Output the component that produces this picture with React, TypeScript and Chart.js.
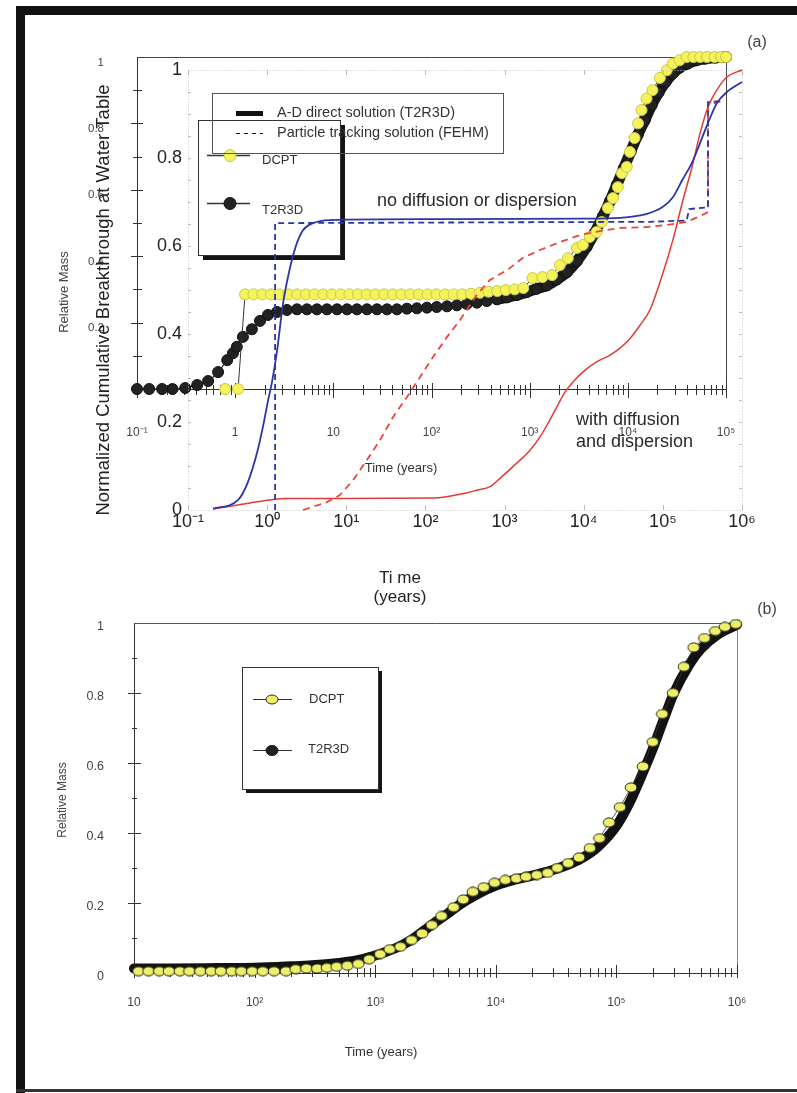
import React, { useEffect, useRef } from "react";
import { Chart, registerables } from "chart.js";

Chart.register(...registerables);

const FONT = '"Liberation Sans", Arial, Helvetica, sans-serif';

// ---------------- Panel (a) : background chart (Relative Mass, DCPT / T2R3D) ----------------
const A_BG_X_TICKS = [0.1, 1, 10, 100, 1000, 10000, 100000];
const A_BG_X_LABELS = ["10⁻¹", "1", "10", "10²", "10³", "10⁴", "10⁵"];
const A_BG_Y_TICKS = [0.2, 0.4, 0.6, 0.8, 1];
const A_BG_Y_LABELS = ["0.2", "0.4", "0.6", "0.8", "1"];

const DCPT_A_T = [0.79, 1.07, 1.26, 1.54, 1.89, 2.32, 2.84, 3.49, 4.28, 5.25, 6.44, 7.89, 9.68, 11.9, 14.6, 17.8, 21.9, 26.8, 32.9, 40.4, 49.5, 60.7, 74.5, 91.3, 112, 137, 168, 206, 253, 310, 380, 467, 572, 702, 861, 1070, 1350, 1690, 2030, 2450, 3030, 3480, 4090, 4800, 5430, 6270, 7060, 7920, 8700, 9760, 10500, 11700, 12700, 13800, 15500, 17800, 21200, 24900, 28700, 33600, 39600, 46500, 54600, 64000, 76600, 89000, 100000];
const DCPT_A_V = [0, 0, 0.285, 0.285, 0.285, 0.285, 0.285, 0.285, 0.285, 0.285, 0.285, 0.285, 0.285, 0.285, 0.285, 0.285, 0.285, 0.285, 0.285, 0.285, 0.285, 0.285, 0.285, 0.285, 0.285, 0.285, 0.285, 0.285, 0.287, 0.29, 0.293, 0.295, 0.298, 0.3, 0.304, 0.334, 0.337, 0.343, 0.373, 0.394, 0.425, 0.434, 0.458, 0.473, 0.503, 0.545, 0.575, 0.608, 0.65, 0.669, 0.714, 0.756, 0.8, 0.84, 0.875, 0.9, 0.937, 0.96, 0.98, 0.99, 1, 1, 1, 1, 1, 1, 1];

const T2R3D_A_T = [0.1, 0.133, 0.18, 0.23, 0.31, 0.41, 0.53, 0.67, 0.83, 0.95, 1.04, 1.2, 1.48, 1.79, 2.16, 2.67, 3.37, 4.26, 5.38, 6.8, 8.6, 10.9, 13.8, 17.4, 22, 27.8, 35.2, 44.5, 56.2, 71, 89.8, 113, 144, 181, 229, 290, 366, 463, 586, 741, 935, 1180, 1500, 1900, 2400, 3030, 3810, 4580, 5560, 6550, 7720, 9100, 10700, 12600, 14900, 17500, 20600, 24300, 28700, 33800, 40700, 50000, 61700, 78000, 100000];
const T2R3D_A_V = [0, 0, 0, 0, 0.003, 0.012, 0.024, 0.051, 0.087, 0.108, 0.127, 0.157, 0.18, 0.205, 0.223, 0.232, 0.238, 0.24, 0.24, 0.24, 0.24, 0.24, 0.24, 0.24, 0.24, 0.24, 0.24, 0.24, 0.242, 0.243, 0.245, 0.247, 0.249, 0.252, 0.256, 0.26, 0.265, 0.27, 0.276, 0.283, 0.292, 0.302, 0.312, 0.33, 0.352, 0.385, 0.428, 0.47, 0.52, 0.565, 0.615, 0.665, 0.715, 0.765, 0.81, 0.855, 0.893, 0.925, 0.95, 0.968, 0.98, 0.99, 0.995, 0.998, 1];

// ---------------- Panel (a) : foreground chart (Normalized Cumulative Breakthrough) ----------------
const A_FG_X_TICKS = [0.1, 1, 10, 100, 1000, 10000, 100000, 1000000];
const A_FG_X_LABELS = ["10⁻¹", "10⁰", "10¹", "10²", "10³", "10⁴", "10⁵", "10⁶"];
const A_FG_Y_TICKS = [0, 0.2, 0.4, 0.6, 0.8, 1];
const A_FG_Y_LABELS = ["0", "0.2", "0.4", "0.6", "0.8", "1"];

const BLUE_SOLID_T = [0.207, 0.43, 0.573, 0.745, 0.887, 1.03, 1.15, 1.33, 1.59, 1.94, 2.38, 2.84, 3.8, 6.2, 100, 10000, 28800, 63000, 100000, 134000, 176000, 233000, 295000, 372000, 483000, 645000, 1000000];
const BLUE_SOLID_V = [0.003, 0.023, 0.064, 0.13, 0.19, 0.25, 0.29, 0.36, 0.47, 0.55, 0.607, 0.636, 0.652, 0.659, 0.661, 0.662, 0.664, 0.673, 0.689, 0.711, 0.75, 0.789, 0.834, 0.88, 0.925, 0.95, 0.973];

const BLUE_DASH_T = [1.26, 1.26, 69000, 200000, 215000, 372000, 372000, 560000];
const BLUE_DASH_V = [0, 0.652, 0.655, 0.658, 0.684, 0.688, 0.927, 0.93];

const RED_SOLID_T = [0.207, 0.607, 1.09, 1.78, 125, 335, 447, 655, 875, 1435, 2100, 2800, 3540, 4600, 5800, 7330, 9800, 14700, 21500, 28700, 38500, 51500, 68900, 100000, 134000, 180000, 234000, 295000, 372000, 483000, 645000, 1000000];
const RED_SOLID_V = [0.002, 0.016, 0.023, 0.026, 0.027, 0.039, 0.045, 0.053, 0.072, 0.107, 0.136, 0.166, 0.197, 0.235, 0.268, 0.291, 0.314, 0.337, 0.352, 0.368, 0.39, 0.42, 0.455, 0.538, 0.614, 0.705, 0.78, 0.856, 0.916, 0.955, 0.984, 1.0];

const RED_DASH_T = [2.84, 5.7, 8.3, 12.2, 18.3, 26.7, 38.9, 58.5, 85.4, 125, 187, 274, 449, 655, 1070, 1710, 2800, 5010, 8970, 16000, 28800, 63100, 113000, 202000, 295000, 372000, 372000, 562000];
const RED_DASH_V = [0, 0.018, 0.034, 0.068, 0.114, 0.159, 0.211, 0.257, 0.302, 0.348, 0.393, 0.432, 0.49, 0.523, 0.545, 0.573, 0.591, 0.609, 0.625, 0.634, 0.641, 0.643, 0.648, 0.655, 0.668, 0.677, 0.92, 0.93];

// ---------------- Panel (b) ----------------
const B_X_TICKS = [10, 100, 1000, 10000, 100000, 1000000];
const B_X_LABELS = ["10", "10²", "10³", "10⁴", "10⁵", "10⁶"];
const B_Y_TICKS = [0, 0.2, 0.4, 0.6, 0.8, 1];
const B_Y_LABELS = ["0", "0.2", "0.4", "0.6", "0.8", "1"];

const DCPT_B_T = [10.9, 13.2, 16.2, 19.5, 24.0, 28.8, 35.5, 43.6, 52.5, 64.6, 77.6, 95.5, 117, 145, 182, 219, 269, 331, 398, 479, 589, 724, 891, 1100, 1320, 1620, 2000, 2450, 2950, 3550, 4470, 5370, 6460, 7940, 9770, 12000, 14800, 17800, 21900, 26900, 32400, 39800, 49000, 60300, 72400, 87100, 107000, 132000, 166000, 200000, 240000, 295000, 363000, 437000, 537000, 661000, 794000, 977000];
const DCPT_B_V = [0.005, 0.005, 0.005, 0.005, 0.005, 0.005, 0.005, 0.005, 0.005, 0.005, 0.005, 0.005, 0.005, 0.005, 0.005, 0.011, 0.013, 0.013, 0.015, 0.018, 0.021, 0.026, 0.039, 0.054, 0.068, 0.075, 0.094, 0.113, 0.137, 0.163, 0.188, 0.21, 0.232, 0.245, 0.258, 0.266, 0.27, 0.275, 0.28, 0.286, 0.3, 0.314, 0.33, 0.357, 0.385, 0.43, 0.474, 0.53, 0.59, 0.66, 0.74, 0.8, 0.875, 0.93, 0.957, 0.977, 0.989, 0.997];

const T2R3D_B_T = [10, 20, 50, 100, 200, 300, 500, 700, 1000, 1500, 2000, 3000, 4000, 5000, 7000, 10000, 15000, 20000, 30000, 40000, 50000, 70000, 100000, 130000, 160000, 200000, 250000, 300000, 400000, 500000, 700000, 1000000];
const T2R3D_B_V = [0.013, 0.013, 0.014, 0.015, 0.019, 0.022, 0.029, 0.036, 0.05, 0.072, 0.095, 0.14, 0.17, 0.195, 0.225, 0.25, 0.268, 0.278, 0.295, 0.31, 0.325, 0.36, 0.42, 0.49, 0.56, 0.64, 0.73, 0.8, 0.88, 0.925, 0.968, 0.995];

// ---------------- helpers ----------------
function pts(t: number[], v: number[]) {
  return t.map((x, i) => ({ x, y: v[i] }));
}
function logMinors(decades: number[]) {
  const out: number[] = [];
  for (let i = 0; i < decades.length - 1; i++) for (let m = 2; m <= 9; m++) out.push(decades[i] * m);
  return out;
}
function crossX(chart: any, values: number[], up: number, down: number, color: string, w: number) {
  const { ctx, chartArea } = chart;
  const sc = chart.scales.x;
  const y0 = chartArea.bottom;
  ctx.save();
  ctx.strokeStyle = color;
  ctx.lineWidth = w;
  ctx.beginPath();
  for (const v of values) {
    const px = Math.round(sc.getPixelForValue(v)) + 0.5;
    ctx.moveTo(px, y0 - up);
    ctx.lineTo(px, y0 + down);
  }
  ctx.stroke();
  ctx.restore();
}
function crossY(chart: any, values: number[], left: number, right: number, color: string, w: number) {
  const { ctx, chartArea } = chart;
  const sc = chart.scales.y;
  const x0 = chartArea.left;
  ctx.save();
  ctx.strokeStyle = color;
  ctx.lineWidth = w;
  ctx.beginPath();
  for (const v of values) {
    const py = Math.round(sc.getPixelForValue(v)) + 0.5;
    ctx.moveTo(x0 - left, py);
    ctx.lineTo(x0 + right, py);
  }
  ctx.stroke();
  ctx.restore();
}
function txt(ctx: any, s: string, x: number, y: number, size: number, color = "#333", align = "left", rot = 0) {
  ctx.save();
  ctx.font = `${size}px ${FONT}`;
  ctx.fillStyle = color;
  ctx.textAlign = align;
  ctx.textBaseline = "middle";
  ctx.translate(x, y);
  if (rot) ctx.rotate(rot);
  ctx.fillText(s, 0, 0);
  ctx.restore();
}
function line(ctx: any, x1: number, y1: number, x2: number, y2: number, color: string, w: number, dash: number[] = []) {
  ctx.save();
  ctx.strokeStyle = color;
  ctx.lineWidth = w;
  ctx.setLineDash(dash);
  ctx.beginPath();
  ctx.moveTo(x1, y1);
  ctx.lineTo(x2, y2);
  ctx.stroke();
  ctx.restore();
}
function ellipse(ctx: any, x: number, y: number, rx: number, ry: number, fill: string, stroke: string) {
  ctx.save();
  ctx.beginPath();
  ctx.ellipse(x, y, rx, ry, 0, 0, Math.PI * 2);
  ctx.fillStyle = fill;
  ctx.fill();
  ctx.strokeStyle = stroke;
  ctx.lineWidth = 1;
  ctx.stroke();
  ctx.restore();
}
function shadowBox(ctx: any, x: number, y: number, w: number, h: number, sh: number) {
  ctx.save();
  ctx.fillStyle = "#141414";
  ctx.fillRect(x + w, y + sh, sh, h);
  ctx.fillRect(x + sh, y + h, w, sh);
  ctx.strokeStyle = "#333";
  ctx.lineWidth = 1;
  ctx.strokeRect(x + 0.5, y + 0.5, w, h);
  ctx.restore();
}
function makeEllipseStyle() {
  const c = document.createElement("canvas");
  c.width = 14;
  c.height = 11;
  const g = c.getContext("2d")!;
  g.beginPath();
  g.ellipse(7, 5.5, 5.8, 4.6, 0, 0, Math.PI * 2);
  g.fillStyle = "#eef06a";
  g.fill();
  g.strokeStyle = "#2a2a1a";
  g.lineWidth = 1;
  g.stroke();
  return c;
}
const PAD = { grid: { display: false, drawTicks: false } };

// ---------------- chart configs ----------------
function bgConfig(): any {
  const plugin = {
    id: "bgDecor",
    beforeDatasetsDraw(chart: any) {
      const { ctx, chartArea: a } = chart;
      line(ctx, a.left, a.top + 0.5, a.right + 0.5, a.top + 0.5, "#444", 1);
      line(ctx, a.right + 0.5, a.top, a.right + 0.5, a.bottom, "#444", 1);
      crossX(chart, A_BG_X_TICKS, 6, 9, "#333", 1);
      crossX(chart, logMinors(A_BG_X_TICKS), 4, 6, "#333", 1);
      crossY(chart, [0.2, 0.4, 0.6, 0.8], 6, 6, "#333", 1);
      crossY(chart, [0.1, 0.3, 0.5, 0.7, 0.9], 4, 5, "#333", 1);
    },
    afterDraw(chart: any) {
      const ctx = chart.ctx;
      shadowBox(ctx, 198, 120, 142, 135, 5);
      line(ctx, 207, 155.5, 250, 155.5, "#333", 1.5);
      ellipse(ctx, 230, 155.5, 6, 6, "#f4f45a", "#c8c84a");
      txt(ctx, "DCPT", 262, 160, 13, "#333");
      line(ctx, 207, 203.5, 250, 203.5, "#333", 1.5);
      ellipse(ctx, 230, 203.5, 6, 6, "#222", "#111");
      txt(ctx, "T2R3D", 262, 210, 13, "#333");
      txt(ctx, "Relative Mass", 64, 292, 13, "#444", "center", -Math.PI / 2);
      txt(ctx, "Time (years)", 401, 468, 13, "#333", "center");
    },
  };
  return {
    type: "line",
    data: {
      datasets: [
        {
          label: "DCPT",
          data: pts(DCPT_A_T, DCPT_A_V),
          borderColor: "#333",
          borderWidth: 1,
          pointRadius: 5.5,
          pointBackgroundColor: "#f4f45a",
          pointBorderColor: "#c8c84a",
          pointBorderWidth: 1,
          tension: 0,
          clip: false,
        },
        {
          label: "T2R3D",
          data: pts(T2R3D_A_T, T2R3D_A_V),
          borderColor: "#1a1a1a",
          borderWidth: 1.2,
          borderCapStyle: "round",
          borderJoinStyle: "round",
          segment: { borderWidth: (c: any) => (c.p0.parsed.y >= 0.27 ? 11 : 1.2) },
          pointRadius: 5.5,
          pointBackgroundColor: "#222",
          pointBorderColor: "#111",
          pointBorderWidth: 1,
          cubicInterpolationMode: "monotone",
          clip: false,
        },
      ],
    },
    options: {
      responsive: false,
      animation: false,
      events: [],
      layout: { padding: { left: 77, right: 71, top: 57, bottom: 91 } },
      plugins: { legend: { display: false }, tooltip: { enabled: false } },
      scales: {
        x: {
          type: "logarithmic",
          min: 0.1,
          max: 100000,
          afterFit: (s: any) => { s.height = 80; },
          afterBuildTicks: (s: any) => { s.ticks = A_BG_X_TICKS.map((value) => ({ value })); },
          ...PAD,
          border: { color: "#333", width: 1 },
          ticks: { autoSkip: false, maxRotation: 0, padding: 36, color: "#444", font: { family: FONT, size: 12 }, callback: (_v: any, i: number) => A_BG_X_LABELS[i] },
        },
        y: {
          type: "linear",
          min: 0,
          max: 1,
          afterFit: (s: any) => { s.width = 60; },
          afterBuildTicks: (s: any) => { s.ticks = A_BG_Y_TICKS.map((value) => ({ value })); },
          ...PAD,
          border: { color: "#333", width: 1 },
          ticks: { padding: 33, labelOffset: 5.5, color: "#444", font: { family: FONT, size: 11.5 }, callback: (_v: any, i: number) => A_BG_Y_LABELS[i] },
        },
      },
    },
    plugins: [plugin],
  };
}

function fgConfig(): any {
  const plugin = {
    id: "fgDecor",
    beforeDatasetsDraw(chart: any) {
      const { ctx, chartArea: a } = chart;
      ctx.save();
      ctx.strokeStyle = "#c4c4c4";
      ctx.lineWidth = 1;
      ctx.setLineDash([1, 2]);
      ctx.strokeRect(a.left + 0.5, a.top + 0.5, a.right - a.left, a.bottom - a.top);
      ctx.restore();
      const xs = chart.scales.x;
      const ys = chart.scales.y;
      ctx.save();
      ctx.strokeStyle = "#bcbcbc";
      ctx.lineWidth = 1;
      ctx.beginPath();
      for (const v of A_FG_X_TICKS) {
        const px = Math.round(xs.getPixelForValue(v)) + 0.5;
        ctx.moveTo(px, a.top);
        ctx.lineTo(px, a.top + 5);
        ctx.moveTo(px, a.bottom);
        ctx.lineTo(px, a.bottom - 5);
      }
      for (let k = 1; k < 20; k++) {
        const py = Math.round(ys.getPixelForValue(k * 0.05)) + 0.5;
        ctx.moveTo(a.left, py);
        ctx.lineTo(a.left + 3, py);
        ctx.moveTo(a.right, py);
        ctx.lineTo(a.right - 3, py);
      }
      ctx.stroke();
      ctx.restore();
    },
    afterDraw(chart: any) {
      const ctx = chart.ctx;
      ctx.save();
      ctx.strokeStyle = "#555";
      ctx.lineWidth = 1;
      ctx.strokeRect(212.5, 93.5, 291, 60);
      ctx.restore();
      line(ctx, 236, 113.5, 263, 113.5, "#111", 5);
      txt(ctx, "A-D direct solution (T2R3D)", 277, 113, 14.5, "#333");
      line(ctx, 236, 133.5, 263, 133.5, "#111", 1.2, [4, 4]);
      txt(ctx, "Particle tracking solution (FEHM)", 277, 133, 14.5, "#333");
      txt(ctx, "no diffusion or dispersion", 377, 201, 18, "#2a2a2a");
      txt(ctx, "with diffusion", 576, 420, 18, "#2a2a2a");
      txt(ctx, "and dispersion", 576, 442, 18, "#2a2a2a");
      txt(ctx, "Normalized Cumulative Breakthrough at Water Table", 104, 300, 18.5, "#222", "center", -Math.PI / 2);
      txt(ctx, "Ti me", 400, 578, 17, "#222", "center");
      txt(ctx, "(years)", 400, 597, 17, "#222", "center");
      txt(ctx, "(a)", 757, 43, 16, "#444", "center");
    },
  };
  return {
    type: "line",
    data: {
      datasets: [
        { label: "A-D direct, no diffusion", data: pts(BLUE_SOLID_T, BLUE_SOLID_V), borderColor: "#2b36a8", borderWidth: 1.8, pointRadius: 0, cubicInterpolationMode: "monotone", clip: false },
        { label: "Particle tracking, no diffusion", data: pts(BLUE_DASH_T, BLUE_DASH_V), borderColor: "#2b36a8", borderWidth: 1.8, borderDash: [6, 4], pointRadius: 0, tension: 0, clip: false },
        { label: "A-D direct, with diffusion", data: pts(RED_SOLID_T, RED_SOLID_V), borderColor: "#e23a36", borderWidth: 1.5, pointRadius: 0, cubicInterpolationMode: "monotone", clip: false },
        { label: "Particle tracking, with diffusion", data: pts(RED_DASH_T, RED_DASH_V), borderColor: "#e8453c", borderWidth: 1.8, borderDash: [7, 5], pointRadius: 0, tension: 0, clip: false },
      ],
    },
    options: {
      responsive: false,
      animation: false,
      events: [],
      layout: { padding: { left: 128, right: 55, top: 70, bottom: 50 } },
      plugins: { legend: { display: false }, tooltip: { enabled: false } },
      scales: {
        x: {
          type: "logarithmic",
          min: 0.1,
          max: 1000000,
          afterFit: (s: any) => { s.height = 60; },
          afterBuildTicks: (s: any) => { s.ticks = A_FG_X_TICKS.map((value) => ({ value })); },
          ...PAD,
          border: { display: false },
          ticks: { autoSkip: false, maxRotation: 0, padding: 1, color: "#222", font: { family: FONT, size: 18 }, callback: (_v: any, i: number) => A_FG_X_LABELS[i] },
        },
        y: {
          type: "linear",
          min: 0,
          max: 1,
          afterFit: (s: any) => { s.width = 60; },
          afterBuildTicks: (s: any) => { s.ticks = A_FG_Y_TICKS.map((value) => ({ value })); },
          ...PAD,
          border: { display: false },
          ticks: { padding: 6, color: "#222", font: { family: FONT, size: 18 }, callback: (_v: any, i: number) => A_FG_Y_LABELS[i] },
        },
      },
    },
    plugins: [plugin],
  };
}

function bConfig(): any {
  const ell = makeEllipseStyle();
  const plugin = {
    id: "bDecor",
    beforeDatasetsDraw(chart: any) {
      const { ctx, chartArea: a } = chart;
      line(ctx, a.left, a.top + 0.5, a.right + 0.5, a.top + 0.5, "#555", 1);
      line(ctx, a.right + 0.5, a.top, a.right + 0.5, a.bottom, "#888", 1);
      crossX(chart, B_X_TICKS, 8, 5, "#333", 1);
      crossX(chart, logMinors(B_X_TICKS), 5, 4, "#333", 1);
      crossY(chart, [0.2, 0.4, 0.6, 0.8], 6, 7, "#333", 1);
      crossY(chart, [0.1, 0.3, 0.5, 0.7, 0.9], 2, 3, "#333", 1);
    },
    afterDraw(chart: any) {
      const ctx = chart.ctx;
      shadowBox(ctx, 242, 107, 136, 122, 4);
      line(ctx, 253, 139.5, 292, 139.5, "#333", 1);
      ellipse(ctx, 272, 139.5, 6, 4.5, "#eef06a", "#2a2a1a");
      txt(ctx, "DCPT", 309, 139, 13, "#333");
      line(ctx, 253, 190.5, 292, 190.5, "#333", 1);
      ellipse(ctx, 272, 190.5, 6, 5, "#222", "#111");
      txt(ctx, "T2R3D", 308, 189, 13, "#333");
      txt(ctx, "Relative Mass", 63, 240, 12, "#444", "center", -Math.PI / 2);
      txt(ctx, "Time (years)", 381, 492, 13, "#333", "center");
      txt(ctx, "(b)", 767, 50, 16, "#444", "center");
    },
  };
  return {
    type: "line",
    data: {
      datasets: [
        { label: "DCPT", data: pts(DCPT_B_T, DCPT_B_V), borderColor: "#333", borderWidth: 0.8, pointStyle: ell, pointRadius: 5, tension: 0, clip: false },
        { label: "T2R3D", data: pts(T2R3D_B_T, T2R3D_B_V), borderColor: "#121212", borderWidth: 10, borderCapStyle: "round", borderJoinStyle: "round", pointRadius: 0, cubicInterpolationMode: "monotone", clip: false },
      ],
    },
    options: {
      responsive: false,
      animation: false,
      events: [],
      layout: { padding: { left: 74, right: 60, top: 63, bottom: 60 } },
      plugins: { legend: { display: false }, tooltip: { enabled: false } },
      scales: {
        x: {
          type: "logarithmic",
          min: 10,
          max: 1000000,
          afterFit: (s: any) => { s.height = 60; },
          afterBuildTicks: (s: any) => { s.ticks = B_X_TICKS.map((value) => ({ value })); },
          ...PAD,
          border: { color: "#333", width: 1 },
          ticks: { autoSkip: false, maxRotation: 0, padding: 22, color: "#444", font: { family: FONT, size: 12 }, callback: (_v: any, i: number) => B_X_LABELS[i] },
        },
        y: {
          type: "linear",
          min: 0,
          max: 1,
          afterFit: (s: any) => { s.width = 60; },
          afterBuildTicks: (s: any) => { s.ticks = B_Y_TICKS.map((value) => ({ value })); },
          ...PAD,
          border: { color: "#333", width: 1 },
          ticks: { padding: 30, labelOffset: 4, color: "#444", font: { family: FONT, size: 12.5 }, callback: (_v: any, i: number) => B_Y_LABELS[i] },
        },
      },
    },
    plugins: [plugin],
  };
}

export default function App() {
  const bgRef = useRef<HTMLCanvasElement>(null);
  const fgRef = useRef<HTMLCanvasElement>(null);
  const bRef = useRef<HTMLCanvasElement>(null);

  useEffect(() => {
    const charts: Chart[] = [];
    if (bgRef.current) charts.push(new Chart(bgRef.current, bgConfig()));
    if (fgRef.current) charts.push(new Chart(fgRef.current, fgConfig()));
    if (bRef.current) charts.push(new Chart(bRef.current, bConfig()));
    return () => charts.forEach((c) => c.destroy());
  }, []);

  const abs = (l: number, t: number): React.CSSProperties => ({ position: "absolute", left: l, top: t });

  return (
    <div style={{ position: "absolute", left: 0, top: 0, width: 797, height: 1093, background: "#fff", overflow: "hidden" }}>
      <div style={{ ...abs(16, 6), width: 9, height: 1087, background: "#111" }} />
      <div style={{ ...abs(16, 6), width: 781, height: 9, background: "#111" }} />
      <div style={{ ...abs(16, 1089), width: 781, height: 3, background: "#333" }} />
      <canvas ref={bgRef} width={797} height={560} style={{ ...abs(0, 0), width: 797, height: 560 }} />
      <canvas ref={fgRef} width={797} height={620} style={{ ...abs(0, 0), width: 797, height: 620 }} />
      <canvas ref={bRef} width={797} height={533} style={{ ...abs(0, 560), width: 797, height: 533 }} />
    </div>
  );
}
